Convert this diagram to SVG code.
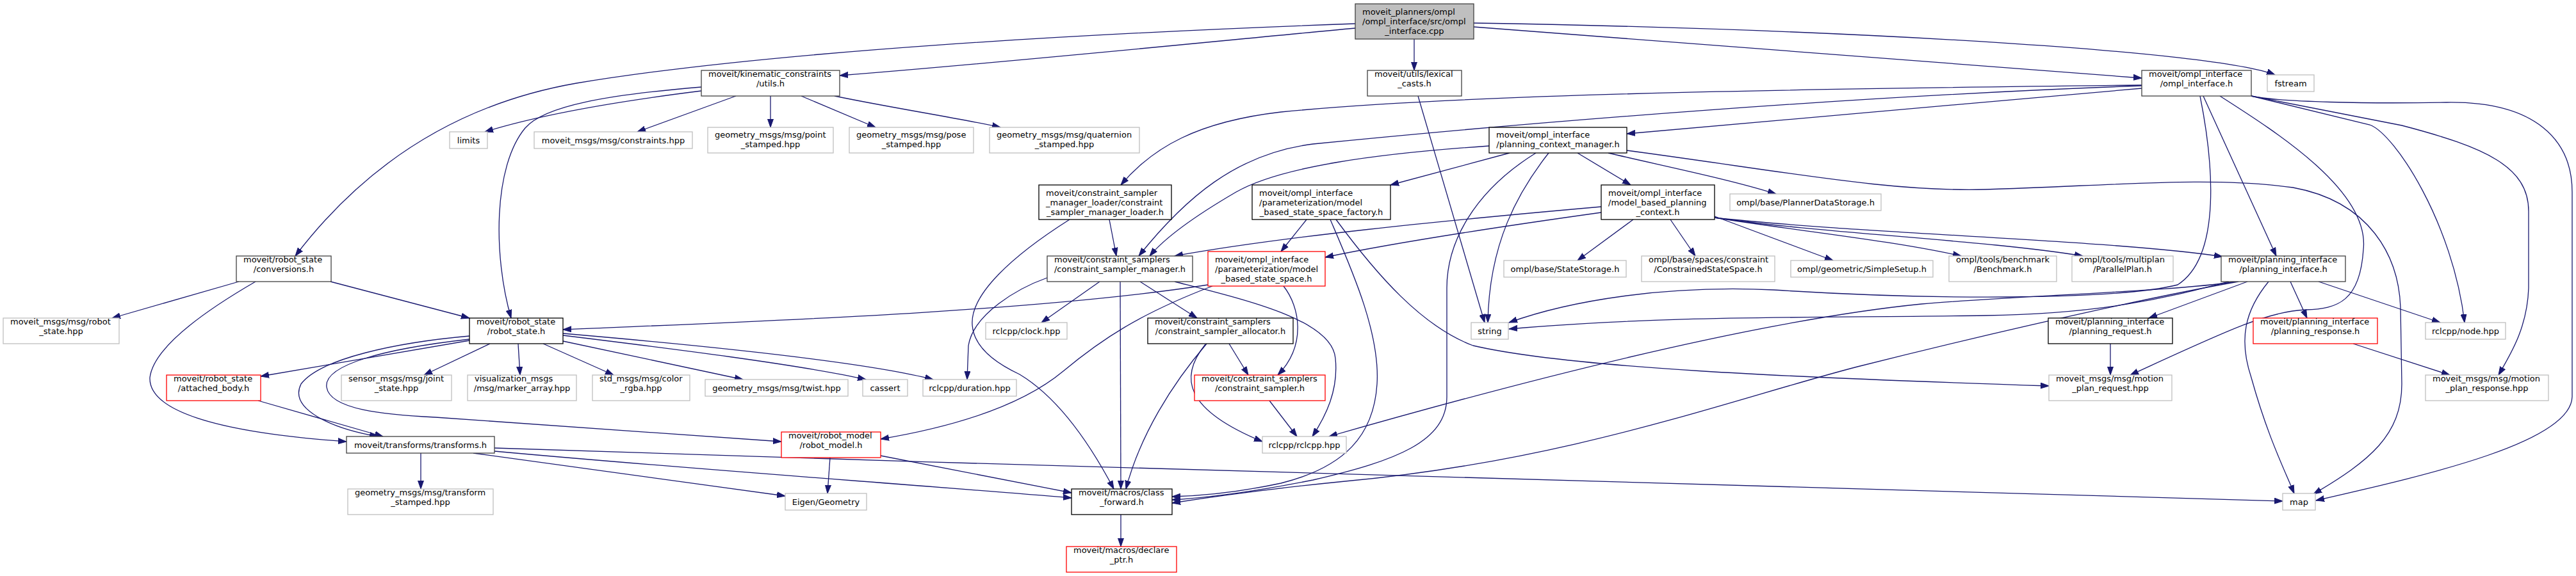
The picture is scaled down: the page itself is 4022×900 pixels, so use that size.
<svg xmlns="http://www.w3.org/2000/svg" width="4022" height="900" viewBox="0 0 4022 900">
<style>
.n rect{fill:#fff;stroke:#000;stroke-width:1.3}
.g rect{stroke:#404040}
.root rect{fill:#bfbfbf;stroke:#404040}
.x rect{stroke:#bfbfbf}
.r rect{stroke:#f00}
text{font-family:"DejaVu Sans",sans-serif;font-size:13px;fill:#000}
.c{text-anchor:middle}
#edges path{fill:none;stroke:#191970;stroke-width:1.3;marker-end:url(#a)}
</style>
<defs>
<marker id="a" markerWidth="14" markerHeight="10" refX="13" refY="5" orient="auto" markerUnits="userSpaceOnUse"><path d="M0,0.5 L13,5 L0,9.5 z" fill="#191970" stroke="#191970" stroke-width="1"/></marker>
</defs>
<rect width="4022" height="900" fill="#fff"/>
<g id="edges">
<path d="M2116,37 C1700,52 1200,80 900,130 C700,165 560,270 461,400"/>
<path d="M2116,44 C1900,64 1600,95 1311,118"/>
<path d="M2208,61 L2208,110"/>
<path d="M2301,36 C2900,46 3460,80 3552,117"/>
<path d="M2301,42 C2700,72 3100,100 3344,122"/>
<path d="M1095,142 C950,160 840,180 757,206"/>
<path d="M1149,150 L995,206"/>
<path d="M1203,150 L1203,199"/>
<path d="M1251,150 L1367,199"/>
<path d="M1303,150 C1400,170 1500,185 1562,199"/>
<path d="M1095,136 C950,148 850,165 820,200 C770,260 770,400 798,497"/>
<path d="M2214,150 L2318,504"/>
<path d="M3344,138 C3000,168 2700,195 2540,209"/>
<path d="M3344,133 C2900,138 2300,145 2000,175 C1870,190 1800,230 1750,289"/>
<path d="M3344,134 C2900,150 2400,190 2050,225 C1930,240 1850,310 1778,400"/>
<path d="M3440,150 L3554,400"/>
<path d="M3435,150 C3455,250 3470,400 3400,445 C3300,470 3000,468 2770,453 C2600,445 2450,470 2356,504"/>
<path d="M3515,150 L3700,195 C3740,210 3830,350 3848,504"/>
<path d="M3515,150 L3750,196 C3880,230 3948,260 3948,330 L3948,450 C3946,510 3922,550 3901,586"/>
<path d="M3515,150 C3560,160 3700,162 3820,160 C3960,158 4016,220 4016,300 L4016,620 C4014,690 3800,740 3616,782"/>
<path d="M3466,150 C3560,210 3700,300 3690,390 C3685,470 3650,483 3600,484 C3540,486 3470,520 3326,586"/>
<path d="M3509,440 L3355,497"/>
<path d="M3576,440 L3602,497"/>
<path d="M3620,440 L3810,504"/>
<path d="M3542,440 C3505,485 3495,530 3515,590 C3540,680 3565,730 3582,771"/>
<path d="M3480,440 C3400,460 3300,490 3100,493 C2800,497 2600,493 2356,514"/>
<path d="M3490,440 C3400,455 3150,462 3000,475 C2800,495 2500,560 2075,682"/>
<path d="M3495,440 C3380,460 3150,510 2900,573 C2700,625 2450,720 2100,752 C2000,762 1900,775 1830,786"/>
<path d="M2357,239 L2171,289"/>
<path d="M2463,239 L2546,289"/>
<path d="M2511,239 C2600,260 2700,280 2773,303"/>
<path d="M2540,235 C2800,270 2950,300 3100,296 C3300,290 3450,275 3580,293 C3700,315 3745,400 3748,480 L3750,600 C3750,680 3700,720 3612,772"/>
<path d="M2325,228 C2150,240 2000,260 1930,300 C1870,335 1820,370 1795,400"/>
<path d="M2418,239 C2370,300 2325,380 2323,504"/>
<path d="M2398,239 C2300,300 2259,380 2259,450 L2259,620 C2259,690 2180,720 2050,750 C1950,770 1880,778 1830,781"/>
<path d="M2500,323 C2250,345 2000,370 1834,400"/>
<path d="M2500,332 C2300,360 2150,385 2069,402"/>
<path d="M2550,343 L2463,407"/>
<path d="M2608,343 L2647,400"/>
<path d="M2677,338 L2862,407"/>
<path d="M2677,340 C2800,360 2950,375 3062,400"/>
<path d="M2677,340 C2850,365 3100,375 3252,400"/>
<path d="M2677,340 C2900,365 3300,375 3470,401"/>
<path d="M2040,343 L2000,393"/>
<path d="M2077,343 C2110,420 2155,520 2150,600 C2145,680 2100,730 2000,755 C1930,770 1870,775 1830,776"/>
<path d="M2086,343 C2150,430 2220,510 2300,540 C2450,575 2800,590 3199,603"/>
<path d="M2004,447 C2030,480 2040,540 1995,586"/>
<path d="M1893,447 C1780,490 1720,530 1660,580 C1600,630 1500,665 1375,686"/>
<path d="M1886,445 C1600,490 1100,505 879,515"/>
<path d="M1717,440 L1626,504"/>
<path d="M1749,440 L1750,764"/>
<path d="M1780,440 L1869,497"/>
<path d="M1834,440 C1950,470 2080,500 2085,560 C2090,610 2070,650 2049,682"/>
<path d="M1635,434 C1590,450 1520,490 1512,540 L1510,593"/>
<path d="M1732,343 L1743,400"/>
<path d="M1670,343 C1580,400 1515,460 1518,507 C1520,545 1560,570 1592,585 C1650,620 1700,690 1739,764"/>
<path d="M1919,537 L1949,586"/>
<path d="M1884,537 C1830,600 1780,680 1758,764"/>
<path d="M1882,538 C1840,590 1850,640 1971,690"/>
<path d="M1982,626 L2025,682"/>
<path d="M1296,715 L1292,771"/>
<path d="M1375,712 L1673,770"/>
<path d="M657,708 L657,764"/>
<path d="M739,708 L1226,775"/>
<path d="M772,705 C1100,735 1400,755 1673,778"/>
<path d="M772,700 C1800,735 3000,765 3564,783"/>
<path d="M765,537 L662,586"/>
<path d="M809,537 L812,586"/>
<path d="M848,537 L958,586"/>
<path d="M879,533 L1160,593"/>
<path d="M879,524 C1050,545 1250,570 1352,593"/>
<path d="M879,521 C1100,540 1350,565 1457,593"/>
<path d="M733,525 C620,535 500,560 470,600 C450,640 520,670 590,682"/>
<path d="M733,530 C600,545 505,570 510,605 C515,640 600,648 680,652 L1220,690"/>
<path d="M733,532 L407,588"/>
<path d="M373,440 L175,497"/>
<path d="M399,440 C330,480 240,540 234,590 C232,640 330,675 541,690"/>
<path d="M516,440 L733,497"/>
<path d="M403,626 L598,682"/>
<path d="M3295,537 L3295,586"/>
<path d="M3674,537 L3825,586"/>
<path d="M1750,804 L1750,854"/>
</g>
<g id="n_root" class="n root"><rect x="2116" y="6" width="185" height="55"/><text x="2127" y="23">moveit_planners/ompl</text><text x="2127" y="38">/ompl_interface/src/ompl</text><text class="c" x="2208.5" y="53">_interface.cpp</text></g>
<g id="n_kin" class="n g"><rect x="1095" y="110" width="216" height="40"/><text x="1106" y="119.5">moveit/kinematic_constraints</text><text class="c" x="1203" y="134.5">/utils.h</text></g>
<g id="n_lex" class="n g"><rect x="2135" y="110" width="147" height="40"/><text x="2146" y="119.5">moveit/utils/lexical</text><text class="c" x="2208.5" y="134.5">_casts.h</text></g>
<g id="n_ompl" class="n g"><rect x="3344" y="110" width="171" height="40"/><text x="3355" y="119.5">moveit/ompl_interface</text><text class="c" x="3429.5" y="134.5">/ompl_interface.h</text></g>
<g id="n_fstream" class="n x"><rect x="3540" y="117" width="73" height="26"/><text class="c" x="3576.5" y="134.5">fstream</text></g>
<g id="n_limits" class="n x"><rect x="702" y="206" width="59" height="26"/><text class="c" x="731.5" y="223.5">limits</text></g>
<g id="n_constraints" class="n x"><rect x="834" y="206" width="247" height="26"/><text class="c" x="957.5" y="223.5">moveit_msgs/msg/constraints.hpp</text></g>
<g id="n_point" class="n x"><rect x="1105" y="199" width="196" height="40"/><text x="1116" y="214.5">geometry_msgs/msg/point</text><text class="c" x="1203" y="229.5">_stamped.hpp</text></g>
<g id="n_pose" class="n x"><rect x="1326" y="199" width="194" height="40"/><text x="1337" y="214.5">geometry_msgs/msg/pose</text><text class="c" x="1423" y="229.5">_stamped.hpp</text></g>
<g id="n_quat" class="n x"><rect x="1545" y="199" width="234" height="40"/><text x="1556" y="214.5">geometry_msgs/msg/quaternion</text><text class="c" x="1662" y="229.5">_stamped.hpp</text></g>
<g id="n_pcm" class="n"><rect x="2325" y="199" width="215" height="40"/><text x="2336" y="214.5">moveit/ompl_interface</text><text class="c" x="2432.5" y="229.5">/planning_context_manager.h</text></g>
<g id="n_loader" class="n"><rect x="1622" y="289" width="207" height="54"/><text x="1633" y="305.5">moveit/constraint_sampler</text><text x="1633" y="320.5">_manager_loader/constraint</text><text class="c" x="1725.5" y="335.5">_sampler_manager_loader.h</text></g>
<g id="n_factory" class="n"><rect x="1955" y="289" width="216" height="54"/><text x="1966" y="305.5">moveit/ompl_interface</text><text x="1966" y="320.5">/parameterization/model</text><text class="c" x="2063" y="335.5">_based_state_space_factory.h</text></g>
<g id="n_mbpc" class="n"><rect x="2500" y="289" width="177" height="54"/><text x="2511" y="305.5">moveit/ompl_interface</text><text x="2511" y="320.5">/model_based_planning</text><text class="c" x="2588.5" y="335.5">_context.h</text></g>
<g id="n_pds" class="n x"><rect x="2701" y="303" width="236" height="26"/><text class="c" x="2819" y="320.5">ompl/base/PlannerDataStorage.h</text></g>
<g id="n_conv" class="n g"><rect x="369" y="400" width="148" height="40"/><text x="380" y="409.5">moveit/robot_state</text><text class="c" x="443" y="424.5">/conversions.h</text></g>
<g id="n_csm" class="n g"><rect x="1635" y="400" width="227" height="40"/><text x="1646" y="409.5">moveit/constraint_samplers</text><text class="c" x="1748.5" y="424.5">/constraint_sampler_manager.h</text></g>
<g id="n_mbss" class="n r"><rect x="1886" y="393" width="183" height="54"/><text x="1897" y="409.5">moveit/ompl_interface</text><text x="1897" y="424.5">/parameterization/model</text><text class="c" x="1977.5" y="439.5">_based_state_space.h</text></g>
<g id="n_statestorage" class="n x"><rect x="2348" y="407" width="191" height="26"/><text class="c" x="2443.5" y="424.5">ompl/base/StateStorage.h</text></g>
<g id="n_css" class="n x"><rect x="2563" y="400" width="208" height="40"/><text x="2574" y="409.5">ompl/base/spaces/constraint</text><text class="c" x="2667" y="424.5">/ConstrainedStateSpace.h</text></g>
<g id="n_simplesetup" class="n x"><rect x="2796" y="407" width="222" height="26"/><text class="c" x="2907" y="424.5">ompl/geometric/SimpleSetup.h</text></g>
<g id="n_benchmark" class="n x"><rect x="3043" y="400" width="168" height="40"/><text x="3054" y="409.5">ompl/tools/benchmark</text><text class="c" x="3127" y="424.5">/Benchmark.h</text></g>
<g id="n_parallel" class="n x"><rect x="3235" y="400" width="158" height="40"/><text x="3246" y="409.5">ompl/tools/multiplan</text><text class="c" x="3314" y="424.5">/ParallelPlan.h</text></g>
<g id="n_pi" class="n g"><rect x="3468" y="400" width="194" height="40"/><text x="3479" y="409.5">moveit/planning_interface</text><text class="c" x="3565" y="424.5">/planning_interface.h</text></g>
<g id="n_rsmsg" class="n x"><rect x="5" y="497" width="181" height="40"/><text x="16" y="506.5">moveit_msgs/msg/robot</text><text class="c" x="95.5" y="521.5">_state.hpp</text></g>
<g id="n_rs" class="n"><rect x="733" y="497" width="146" height="40"/><text x="744" y="506.5">moveit/robot_state</text><text class="c" x="806" y="521.5">/robot_state.h</text></g>
<g id="n_clock" class="n x"><rect x="1539" y="504" width="127" height="26"/><text class="c" x="1602.5" y="521.5">rclcpp/clock.hpp</text></g>
<g id="n_csa" class="n"><rect x="1792" y="497" width="227" height="40"/><text x="1803" y="506.5">moveit/constraint_samplers</text><text class="c" x="1905.5" y="521.5">/constraint_sampler_allocator.h</text></g>
<g id="n_string" class="n x"><rect x="2297" y="504" width="58" height="26"/><text class="c" x="2326" y="521.5">string</text></g>
<g id="n_preq" class="n"><rect x="3198" y="497" width="194" height="40"/><text x="3209" y="506.5">moveit/planning_interface</text><text class="c" x="3295" y="521.5">/planning_request.h</text></g>
<g id="n_presp" class="n r"><rect x="3518" y="497" width="194" height="40"/><text x="3529" y="506.5">moveit/planning_interface</text><text class="c" x="3615" y="521.5">/planning_response.h</text></g>
<g id="n_node" class="n x"><rect x="3787" y="504" width="125" height="26"/><text class="c" x="3849.5" y="521.5">rclcpp/node.hpp</text></g>
<g id="n_attached" class="n r"><rect x="260" y="586" width="147" height="40"/><text x="271" y="595.5">moveit/robot_state</text><text class="c" x="333.5" y="610.5">/attached_body.h</text></g>
<g id="n_joint" class="n x"><rect x="533" y="586" width="172" height="40"/><text x="544" y="595.5">sensor_msgs/msg/joint</text><text class="c" x="619" y="610.5">_state.hpp</text></g>
<g id="n_vis" class="n x"><rect x="730" y="586" width="170" height="40"/><text x="741" y="595.5">visualization_msgs</text><text class="c" x="815" y="610.5">/msg/marker_array.hpp</text></g>
<g id="n_color" class="n x"><rect x="925" y="586" width="152" height="40"/><text x="936" y="595.5">std_msgs/msg/color</text><text class="c" x="1001" y="610.5">_rgba.hpp</text></g>
<g id="n_twist" class="n x"><rect x="1101" y="593" width="223" height="26"/><text class="c" x="1212.5" y="610.5">geometry_msgs/msg/twist.hpp</text></g>
<g id="n_cassert" class="n x"><rect x="1347" y="593" width="70" height="26"/><text class="c" x="1382" y="610.5">cassert</text></g>
<g id="n_duration" class="n x"><rect x="1441" y="593" width="146" height="26"/><text class="c" x="1514" y="610.5">rclcpp/duration.hpp</text></g>
<g id="n_cs" class="n r"><rect x="1865" y="586" width="204" height="40"/><text x="1876" y="595.5">moveit/constraint_samplers</text><text class="c" x="1967" y="610.5">/constraint_sampler.h</text></g>
<g id="n_mpreq" class="n x"><rect x="3199" y="586" width="192" height="40"/><text x="3210" y="595.5">moveit_msgs/msg/motion</text><text class="c" x="3295" y="610.5">_plan_request.hpp</text></g>
<g id="n_mpresp" class="n x"><rect x="3787" y="586" width="192" height="40"/><text x="3798" y="595.5">moveit_msgs/msg/motion</text><text class="c" x="3883" y="610.5">_plan_response.hpp</text></g>
<g id="n_tf" class="n g"><rect x="541" y="682" width="231" height="26"/><text class="c" x="656.5" y="699.5">moveit/transforms/transforms.h</text></g>
<g id="n_rm" class="n r"><rect x="1220" y="675" width="155" height="40"/><text x="1231" y="684.5">moveit/robot_model</text><text class="c" x="1297.5" y="699.5">/robot_model.h</text></g>
<g id="n_rclcpp" class="n x"><rect x="1971" y="682" width="131" height="26"/><text class="c" x="2036.5" y="699.5">rclcpp/rclcpp.hpp</text></g>
<g id="n_tfs" class="n x"><rect x="543" y="764" width="227" height="40"/><text x="554" y="773.5">geometry_msgs/msg/transform</text><text class="c" x="656.5" y="788.5">_stamped.hpp</text></g>
<g id="n_eigen" class="n x"><rect x="1226" y="771" width="127" height="26"/><text class="c" x="1289.5" y="788.5">Eigen/Geometry</text></g>
<g id="n_cf" class="n"><rect x="1673" y="764" width="157" height="40"/><text x="1684" y="773.5">moveit/macros/class</text><text class="c" x="1751.5" y="788.5">_forward.h</text></g>
<g id="n_map" class="n x"><rect x="3564" y="771" width="51" height="26"/><text class="c" x="3589.5" y="788.5">map</text></g>
<g id="n_declare" class="n r"><rect x="1665" y="854" width="172" height="40"/><text x="1676" y="863.5">moveit/macros/declare</text><text class="c" x="1751" y="878.5">_ptr.h</text></g>
</svg>
